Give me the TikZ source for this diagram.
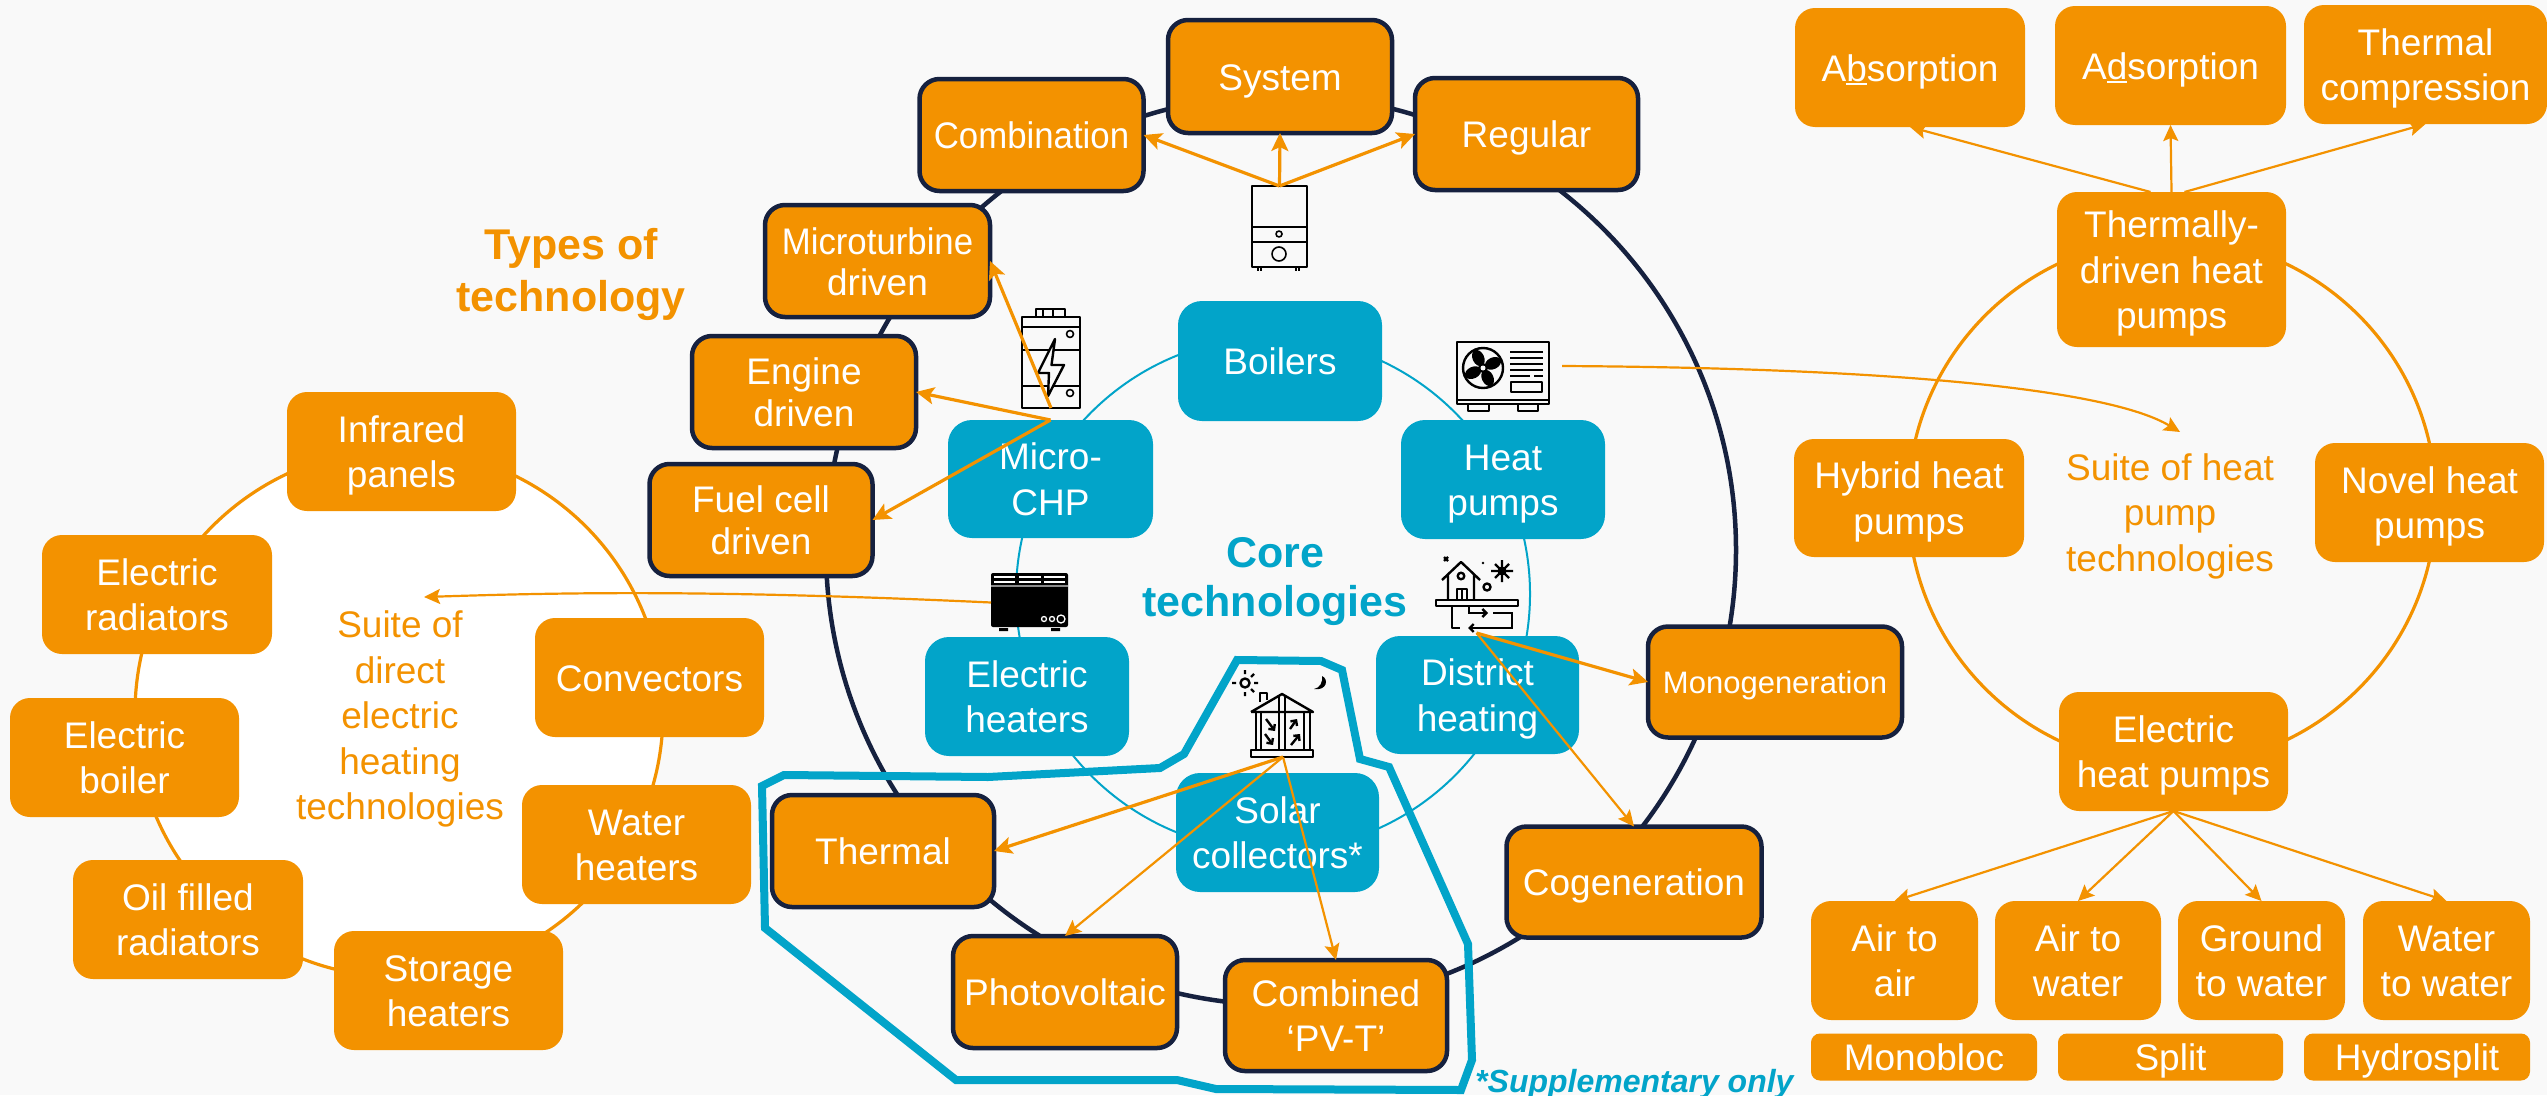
\documentclass[tikz,border=0pt]{standalone}
\usepackage{fontspec}
\usepackage{graphicx}
\setmainfont{Liberation Sans}
\usetikzlibrary{arrows.meta,calc}
\definecolor{orng}{HTML}{F39200}
\definecolor{bluec}{HTML}{02A4C9}
\definecolor{darkn}{HTML}{16213F}
\definecolor{bgc}{HTML}{F9F9F9}
\newcommand{\tstr}{\rule{0pt}{1em}}
\newcommand{\bstr}{\rule[-.27em]{0pt}{.27em}}
\newcommand{\mlt}[1]{\tstr #1\bstr}
\newcommand{\ulet}[1]{#1\llap{\rule[-.11em]{.55em}{.055em}}}
\newcommand{\squeeze}[1]{\scalebox{.94}[1]{#1}}
\tikzset{
  wh/.style 2 args={minimum width=#1,minimum height=#2},
  base/.style={align=center,text=white,inner sep=0pt,outer sep=0pt,font=\fontsize{37}{45.5}\selectfont},
  plainbox/.style={base,fill=orng,rounded corners=20},
  techbox/.style={base,fill=orng,draw=darkn,line width=4.5,rounded corners=20},
  corebox/.style={base,fill=bluec,rounded corners=24},
  thinbox/.style={base,fill=orng,rounded corners=9},
  ringdark/.style={draw=darkn,line width=4.5},
  ringblue/.style={draw=bluec,line width=2},
  ringorng/.style={draw=orng,line width=3.2},
  arrthick/.style={draw=orng,line width=3.2,-{Stealth[length=18,width=17,inset=4]}},
  arrthin/.style={draw=orng,line width=2.2,-{Stealth[length=16,width=15,inset=3]}},
  iconbox/.style={inner sep=0pt,outer sep=0pt},
  orangetext/.style={align=center,text=orng,inner sep=0pt,font=\fontsize{37}{45.5}\selectfont},
  ic/.style={draw=black,line width=2.4,line join=round},
  smallarr/.style={draw=black,line width=2.4,-{Straight Barb[length=4,width=8]}},
}
\begin{document}
\begin{tikzpicture}[x=1pt,y=-1pt]
\useasboundingbox (0,0) rectangle (2547,1095);
\fill[bgc] (0,0) rectangle (2547,1095);

% rings
\draw[ringdark] (1281,550) circle[radius=455];
\draw[ringblue] (1273,594) circle[radius=257];
\draw[ringorng,fill=white] (399,713) circle[radius=264];
\draw[ringorng] (2172,502) circle[radius=264];

% supplementary outline
\draw[bluec,line width=8,line join=miter]
 (762,786)--(784,775)--(988,777)--(1160,768)--(1184,754)--(1237,660)--(1321,661)--(1342,670)--(1360,759)--(1389,767)--(1468,944)--(1472,1060)--(1461,1090)--(1216,1089)--(1177,1080)--(956,1080)--(765,928)--cycle;

% outer ring boxes
\node[techbox,wh={224}{112}] (combination) at (1031.5,135) {\mlt{\squeeze{Combination}}};
\node[techbox,wh={224}{113}] (system) at (1280,76.5) {\mlt{System}};
\node[techbox,wh={223}{112}] (regular) at (1526.5,134) {\mlt{Regular}};
\node[techbox,wh={225}{112},font=\fontsize{37}{41}\selectfont] (microturbine) at (877.5,261) {\mlt{\squeeze{Microturbine}\\driven}};
\node[techbox,wh={224}{112},font=\fontsize{37}{42}\selectfont] (engine) at (804,392) {\mlt{Engine\\driven}};
\node[techbox,wh={223}{112},font=\fontsize{37}{42}\selectfont] (fuelcell) at (761,520) {\mlt{Fuel cell\\driven}};
\node[techbox,wh={222}{112}] (thermal) at (883,851) {\mlt{Thermal}};
\node[techbox,wh={224}{112}] (pv) at (1065,992) {\mlt{Photovoltaic}};
\node[techbox,wh={222}{111}] (combined) at (1336,1015.5) {\mlt{Combined\\‘PV-T’}};
\node[techbox,wh={255}{111}] (cogen) at (1634,882) {\mlt{Cogeneration}};
\node[techbox,wh={254}{111},font=\fontsize{31}{37}\selectfont] (mono) at (1775,682) {\mlt{Monogeneration}};

% core boxes
\node[corebox,wh={204}{120}] (boilers) at (1280,361) {\mlt{Boilers}};
\node[corebox,wh={205}{118}] (chp) at (1050.5,479) {\mlt{Micro-\\CHP}};
\node[corebox,wh={204}{119}] (hp) at (1503,479.5) {\mlt{Heat\\pumps}};
\node[corebox,wh={204}{119}] (eheaters) at (1027,696.5) {\mlt{Electric\\heaters}};
\node[corebox,wh={203}{118}] (district) at (1477.5,695) {\mlt{District\\heating}};
\node[corebox,wh={203}{119}] (solar) at (1277.5,832.5) {\mlt{Solar\\collectors*}};

% left group
\node[plainbox,wh={229}{119}] (infrared) at (401.5,451.5) {\mlt{Infrared\\panels}};
\node[plainbox,wh={230}{119}] (eradiators) at (157,594.5) {\mlt{Electric\\radiators}};
\node[plainbox,wh={229}{119}] (eboiler) at (124.5,757.5) {\mlt{Electric\\boiler}};
\node[plainbox,wh={230}{119}] (oil) at (188,919.5) {\mlt{Oil filled\\radiators}};
\node[plainbox,wh={229}{119}] (storage) at (448.5,990.5) {\mlt{Storage\\heaters}};
\node[plainbox,wh={229}{119}] (water) at (636.5,844.5) {\mlt{Water\\heaters}};
\node[plainbox,wh={229}{119}] (convectors) at (649.5,677.5) {\mlt{Convectors}};
\node[orangetext] (suitedirect) at (400,715) {\mlt{Suite of\\direct\\electric\\heating\\technologies}};

% right group
\node[plainbox,wh={230}{119}] (absorption) at (1910,67.5) {\mlt{A\ulet{b}sorption}};
\node[plainbox,wh={231}{119}] (adsorption) at (2170.5,65.5) {\mlt{A\ulet{d}sorption}};
\node[plainbox,wh={243}{119}] (thermcomp) at (2425.5,64.5) {\mlt{Thermal\\compression}};
\node[plainbox,wh={229}{155}] (thermally) at (2171.5,269.5) {\mlt{Thermally-\\driven heat\\pumps}};
\node[plainbox,wh={230}{118}] (hybrid) at (1909,498) {\mlt{Hybrid heat\\pumps}};
\node[plainbox,wh={229}{119}] (novel) at (2429.5,502.5) {\mlt{Novel heat\\pumps}};
\node[plainbox,wh={229}{119}] (ehp) at (2173.5,751.5) {\mlt{Electric\\heat pumps}};
\node[orangetext] (suitehp) at (2170,512) {\mlt{Suite of heat\\pump\\technologies}};
\node[plainbox,wh={167}{119}] (a2a) at (1894.5,960.5) {\mlt{Air to\\air}};
\node[plainbox,wh={166}{119}] (a2w) at (2078,960.5) {\mlt{Air to\\water}};
\node[plainbox,wh={167}{119}] (g2w) at (2261.5,960.5) {\mlt{Ground\\to water}};
\node[plainbox,wh={167}{119}] (w2w) at (2446.5,960.5) {\mlt{Water\\to water}};
\node[thinbox,wh={226}{46}] (monobloc) at (1924,1057) {\mlt{Monobloc}};
\node[thinbox,wh={225}{46}] (split) at (2170.5,1057) {\mlt{Split}};
\node[thinbox,wh={226}{46}] (hydrosplit) at (2417,1057) {\mlt{Hydrosplit}};

% titles
\node[align=center,text=orng,inner sep=0pt,font=\fontsize{43}{52}\selectfont\bfseries] (types) at (571,274) {Types of\\technology};
\node[align=center,text=bluec,inner sep=0pt,font=\fontsize{43}{49}\selectfont\bfseries] (coretitle) at (1275,582) {Core\\technologies};
\node[anchor=west,text=bluec,inner sep=0pt,font=\fontsize{32}{38}\selectfont\bfseries\itshape] (suppl) at (1475,1084) {*Supplementary only};

% icon holders
\node[iconbox,wh={55}{81}] (boilericon) at (1279.5,226.5) {};
\node[iconbox,wh={58}{99}] (chpicon) at (1051,358.5) {};
\node[iconbox,wh={92}{70}] (hpicon) at (1504,376) {};
\node[iconbox,wh={77}{57}] (heatericon) at (1029.5,602.5) {};
\node[iconbox,wh={83}{77}] (districticon) at (1476.5,594.5) {};
\node[iconbox,wh={89}{88}] (solaricon) at (1283,713) {};
\coordinate (directend) at (424,597);
\coordinate (hpend) at (2180,432);
\coordinate (hpstart) at (1562,366);

% boiler icon
\draw[ic] (1252,186) rectangle (1307,267);
\draw[ic,line width=1.8] (1252,227)--(1307,227) (1252,242)--(1307,242);
\draw[ic,line width=1.6] (1279,234) circle[radius=3];
\draw[ic,line width=1.6] (1279,254) circle[radius=7];
\draw[ic,line width=1.2] (1258,267)--(1258,271) (1261,267)--(1261,271) (1296,267)--(1296,271) (1299,267)--(1299,271);

% CHP icon
\draw[ic] (1022,317) rectangle (1080,408);
\draw[ic] (1036,317)--(1036,309)--(1065,309)--(1065,317) (1043,309)--(1043,317) (1053,309)--(1053,317);
\draw[ic] (1022,327)--(1080,327) (1022,350)--(1080,350) (1022,386)--(1080,386);
\draw[ic,line width=1.6] (1070,334) circle[radius=3.5] (1070,393) circle[radius=3.5];
\draw[ic,fill=bgc] (1055,339)--(1038,373)--(1049,373)--(1048,396)--(1064,365)--(1051.5,365)--cycle;

% heat pump icon
\draw[ic] (1457,342) rectangle (1549,400);
\draw[ic] (1457,400)--(1457,404)--(1549,404)--(1549,400);
\draw[ic] (1468,404)--(1468,411)--(1489,411)--(1489,404) (1518,404)--(1518,411)--(1538,411)--(1538,404);
\draw[ic] (1483,368) circle[radius=20];
\foreach \ang in {25,115,205,295}
  \fill[black,rotate around={\ang:(1483,368)}] (1494,368) ellipse[x radius=8.5,y radius=5.8];
\fill[black] (1483,368) circle[radius=5];
\fill[bgc] (1483,368) circle[radius=2.5];
\draw[ic] (1510,352)--(1543,352) (1510,358)--(1543,358) (1510,364)--(1543,364) (1510,370)--(1543,370) (1510,376)--(1530,376) (1534,376)--(1543,376);
\draw[ic] (1511,382) rectangle (1542,392);

% electric heater icon
\fill[black,rounded corners=2] (991,573) rectangle (1068,627);
\draw[white,line width=1.4] (994,577)--(1015,577) (1019,577)--(1041,577) (1044,577)--(1065,577)
  (994,582)--(1015,582) (1019,582)--(1041,582) (1044,582)--(1065,582);
\draw[black!45,line width=1.2] (991,586)--(1068,586);
\draw[white,line width=1.3] (1044,619) circle[radius=2.5] (1052,619) circle[radius=2.5] (1061,619) circle[radius=4];
\fill[black] (999,628) rectangle (1008,631) (1051,628) rectangle (1060,631);

% district heating icon
\draw[ic] (1442,580)--(1461,562)--(1480,580) (1448,574)--(1448,600) (1474,574)--(1474,600);
\draw[ic] (1461,576) circle[radius=3.3];
\draw[ic] (1457,600)--(1457,589)--(1467,589)--(1467,600) (1462,589)--(1462,600);
\draw[ic] (1436,600) rectangle (1518,606);
\draw[ic] (1444,557)--(1448,561) (1448,557)--(1444,561);
\fill[black] (1483,563) circle[radius=1.3];
\draw[ic] (1487,587) circle[radius=3.5];
\draw[ic] (1502,560)--(1502,582) (1491,571)--(1513,571) (1495,564)--(1509,578) (1509,564)--(1495,578);
\fill[black] (1502,571) circle[radius=4.5];
\draw[smallarr] (1469,606)--(1469,613)--(1488,613);
\draw[smallarr] (1493,613)--(1512,613)--(1512,628)--(1468,628);
\draw[ic] (1452,606)--(1452,628)--(1460,628);

% solar icon
\draw[ic] (1245,683) circle[radius=4.5];
\draw[ic] (1245,670)--(1245,674) (1245,692)--(1245,696) (1254,683)--(1258,683) (1232,683)--(1236,683) (1251,677)--(1254,674) (1251,689)--(1254,692);
\fill[black] (1322,676) .. controls (1329,679) and (1327,691) .. (1314,689) .. controls (1320,688) and (1323,682) .. cycle;
\draw[ic,fill=bgc] (1260,702)--(1260,693)--(1267,693)--(1267,700);
\draw[ic] (1251,712)--(1282,694)--(1313,712)--(1251,712);
\draw[ic] (1256,712)--(1256,750) (1310,712)--(1310,750) (1261,712)--(1261,750) (1304,712)--(1304,750) (1279,696)--(1279,750) (1285,696)--(1285,750);
\draw[ic] (1251,750) rectangle (1313,757);
\draw[smallarr] (1266,719)--(1275,731);
\draw[smallarr] (1265,734)--(1273,745);
\draw[smallarr] (1290,729)--(1297,719);
\draw[smallarr] (1291,745)--(1300,734);

% connectors
\draw[arrthick] (boilericon.north) -- (combination.east);
\draw[arrthick] (boilericon.north) -- (system.south);
\draw[arrthick] (boilericon.north) -- (regular.west);
\draw[arrthick] (chpicon.south) -- (microturbine.east);
\draw[arrthick] (chp.north) -- (engine.east);
\draw[arrthick] (chp.north) -- (fuelcell.east);
\draw[arrthick] (districticon.south) -- (mono.west);
\draw[arrthin] (districticon.south) -- (cogen.north);
\draw[arrthick] (solaricon.south) -- (thermal.east);
\draw[arrthin] (solaricon.south) -- (pv.north);
\draw[arrthin] (solaricon.south) -- (combined.north);
\draw[arrthin] (heatericon.west) .. controls (700,589) and (550,593) .. (directend);
\draw[arrthin] (hpstart) .. controls (1900,368) and (2110,390) .. (hpend);
\draw[arrthin] ($(thermally.north)+(-21,0)$) -- (absorption.south);
\draw[arrthin] (thermally.north) -- (adsorption.south);
\draw[arrthin] ($(thermally.north)+(13,0)$) -- (thermcomp.south);
\draw[arrthin] (ehp.south) -- (a2a.north);
\draw[arrthin] (ehp.south) -- (a2w.north);
\draw[arrthin] (ehp.south) -- (g2w.north);
\draw[arrthin] (ehp.south) -- (w2w.north);
\end{tikzpicture}
\end{document}
